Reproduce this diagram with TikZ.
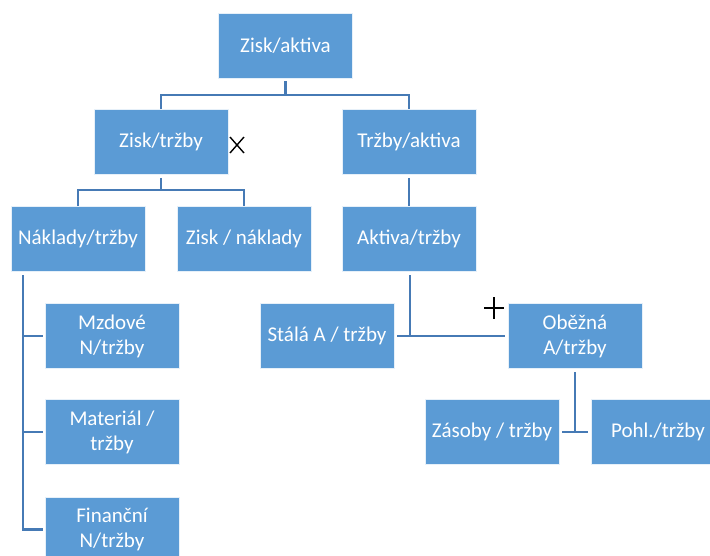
\documentclass[tikz,border=0pt]{standalone}
\usepackage{fontspec}
\setmainfont{Carlito}
\definecolor{boxblue}{HTML}{5B9BD5}
\definecolor{lineblue}{HTML}{467AB5}
\begin{document}
\begin{tikzpicture}[x=1pt,y=-1pt,
  box/.style={draw=white!85!boxblue,line width=0.8pt,fill=boxblue,minimum width=134pt,minimum height=65pt,
    text=white,font=\fontsize{21}{25}\selectfont,align=center,inner sep=2pt},
  conn/.style={draw=lineblue,line width=2.6pt},
  signline/.style={draw=black,line width=1.4pt}]
\useasboundingbox (0,0) rectangle (710,555);
\node[box] (za) at (285.5,45.5) {Zisk/aktiva};
\node[box] (zt) at (161,142) {Zisk/tržby};
\node[box] (ta) at (409,142) {Tržby/aktiva};
\node[box] (nt) at (78,239) {Náklady/tržby};
\node[box] (zn) at (244,239) {Zisk / náklady};
\node[box] (at) at (409,239) {Aktiva/tržby};
\node[box] (mz) at (112,336) {Mzdové\\N/tržby};
\node[box] (sa) at (327,336) {Stálá A / tržby};
\node[box] (ob) at (575,336) {Oběžná\\A/tržby};
\node[box] (ma) at (112,432) {Materiál /\\tržby};
\node[box] (zs) at (492,432) {Zásoby / tržby};
\node[box] (ph) at (658,432) {Pohl./tržby};
\node[box] (fi) at (112,529.5) {Finanční\\N/tržby};
% connectors
\coordinate (j1) at (285.5,95);
\draw[conn] ([yshift=-3pt]za.south) -- (j1);
\draw[conn] (zt.north) -- ++(0,-14) -| (ta.north);
\coordinate (j2) at (161,190);
\draw[conn] ([yshift=-3pt]zt.south) -- (j2);
\draw[conn] (nt.north) -- ++(0,-16) -| (zn.north);
\draw[conn] ([yshift=-3pt]ta.south) -- (at.north);
\coordinate (lv) at (23,275);
\draw[conn] (lv) |- ([xshift=-2pt]fi.west);
\draw[conn] (23,336) -- ([xshift=-2pt]mz.west);
\draw[conn] (23,432) -- ([xshift=-2pt]ma.west);
\coordinate (av) at (410,275);
\draw[conn] (av) -- (410,336);
\draw[conn] ([xshift=3pt]sa.east) -- ([xshift=-3pt]ob.west);
\coordinate (ov) at (575,372);
\draw[conn] (ov) -- (575,432);
\draw[conn] ([xshift=3pt]zs.east) -- ([xshift=-3pt]ph.west);
% signs
\coordinate (xm) at (237,145);
\draw[signline] ([shift={(-7,-8)}]xm) -- ([shift={(7,8)}]xm);
\draw[signline] ([shift={(7,-8)}]xm) -- ([shift={(-7,8)}]xm);
\coordinate (pm) at (494,308);
\draw[signline] ([shift={(-10,0)}]pm) -- ([shift={(10,0)}]pm);
\draw[signline] ([shift={(0,-11)}]pm) -- ([shift={(0,11)}]pm);
\end{tikzpicture}
\end{document}
